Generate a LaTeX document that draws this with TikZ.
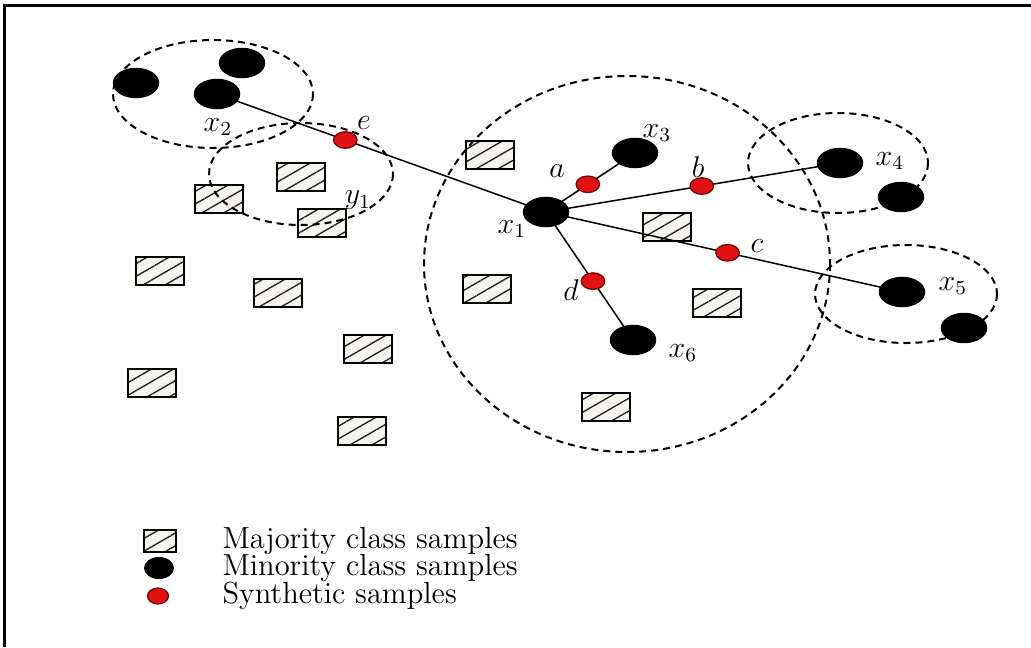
\documentclass[tikz,border=0pt]{standalone}
\usetikzlibrary{shapes.geometric}
\usetikzlibrary{patterns.meta}
\usetikzlibrary{calc}
\usetikzlibrary{backgrounds}
\definecolor{hatchbg}{RGB}{246,244,238}
\definecolor{synred}{RGB}{226,18,18}
\tikzset{
	minority/.style={ellipse, fill=black, minimum width=18.6pt, minimum height=12.2pt, inner sep=0pt},
	synthetic/.style={ellipse, draw=red!45!black, line width=0.5pt, fill=synred, minimum width=9.4pt, minimum height=6.6pt, inner sep=0pt},
	majority/.style={rectangle, draw, line width=0.8pt, minimum width=19.2pt, minimum height=11.2pt, inner sep=0pt,
		preaction={fill=hatchbg}, pattern={Lines[angle=30,distance=4.4pt,line width=0.55pt]}, pattern color=black!85},
	nbhd/.style={line width=0.8pt, dash pattern=on 2.8pt off 2pt},
	link/.style={line width=0.6pt},
	lab/.style={font=\large, inner sep=0pt},
	legtext/.style={anchor=west, inner sep=0pt, font=\fontsize{12.2}{14}\selectfont}
}
\newcommand{\majsq}[3] % name, x in px, y in px
{
	\begin{pgfonlayer}{background}
		\node[majority] (#1) at (#2,#3) {};
	\end{pgfonlayer}
}

\begin{document}
\begin{tikzpicture}[x=0.4pt, y=-0.4pt]
	% 1031 x 647 px, y downwards
	\useasboundingbox (0,0) rectangle (1031,647);
	\draw[line width=1.2pt] (1031,5) -- (4,5) -- (4,647);
	
	% majority class
	\majsq{m1}{490}{155}
	\majsq{m2}{301}{177}
	\majsq{m3}{219}{199}
	\majsq{m4}{322}{223}
	\majsq{m5}{667}{227}
	\majsq{m6}{160}{271}
	\majsq{m7}{278}{293}
	\majsq{m8}{487}{289}
	\majsq{m9}{717}{303}
	\majsq{m10}{368}{349}
	\majsq{m11}{152}{383}
	\majsq{m12}{362}{431}
	\majsq{m13}{606}{407}
	
	% minority class
	\node[minority] (x1) at (546,212) {};
	\node[minority] (x2) at (217,94) {};
	\node[minority] (x2a) at (136,83) {};
	\node[minority] (x2b) at (242,63) {};
	\node[minority] (x3) at (635,153) {};
	\node[minority] (x4) at (840,163) {};
	\node[minority] (x4a) at (901,197) {};
	\node[minority] (x5) at (902,292) {};
	\node[minority] (x5a) at (964,328) {};
	\node[minority] (x6) at (633,340) {};
	
	% synthetic samples
	\node[synthetic] (e) at ($(x2)!0.39!(x1)$) {};
	\node[synthetic] (a) at ($(x1)!0.47!(x3)$) {};
	\node[synthetic] (b) at ($(x1)!0.53!(x4)$) {};
	\node[synthetic] (c) at ($(x1)!0.51!(x5)$) {};
	\node[synthetic] (d) at ($(x1)!0.54!(x6)$) {};
	
	\begin{pgfonlayer}{background}
		\draw[link] (x2.center) -- (x1.center);
		\draw[link] (x1.center) -- (x3.center);
		\draw[link] (x1.center) -- (x4.center);
		\draw[link] (x1.center) -- (x5.center);
		\draw[link] (x1.center) -- (x6.center);
	\end{pgfonlayer}
	
	% neighbourhoods
	\draw[nbhd] (213,94) ellipse [x radius=100, y radius=54];
	\draw[nbhd] (301,174) ellipse [x radius=92, y radius=51];
	\draw[nbhd] (627,264) ellipse [x radius=203, y radius=188];
	\draw[nbhd] (838,163) ellipse [x radius=90, y radius=50];
	\draw[nbhd] (906,294) ellipse [x radius=91, y radius=49];
	
	% labels
	\node[lab] (lx1) at (512,229) {$x_1$};
	\node[lab] (lx2) at (218,127) {$x_2$};
	\node[lab] (lx3) at (657,133) {$x_3$};
	\node[lab] (lx4) at (890,161) {$x_4$};
	\node[lab] (lx5) at (953,286) {$x_5$};
	\node[lab] (lx6) at (683,353) {$x_6$};
	\node[lab] (ly1) at (358,200) {$y_1$};
	\node[lab] (la) at (557,171) {$a$};
	\node[lab] (lb) at (698,167) {$b$};
	\node[lab] (lc) at (757,246) {$c$};
	\node[lab] (ld) at (571,290) {$d$};
	\node[lab] (le) at (364,123) {$e$};
	
	% legend
	\node[majority, minimum width=12.8pt, minimum height=8.8pt] (kmaj) at (160,541) {};
	\node[minority, minimum width=12pt, minimum height=8.8pt] (kmin) at (159,568) {};
	\node[synthetic, minimum width=8.4pt, minimum height=6.4pt] (ksyn) at (158,596) {};
	\node[legtext] (tmaj) at (222,541) {Majority class samples};
	\node[legtext] (tmin) at (222,568) {Minority class samples};
	\node[legtext] (tsyn) at (222,596) {Synthetic samples};
\end{tikzpicture}
\end{document}
